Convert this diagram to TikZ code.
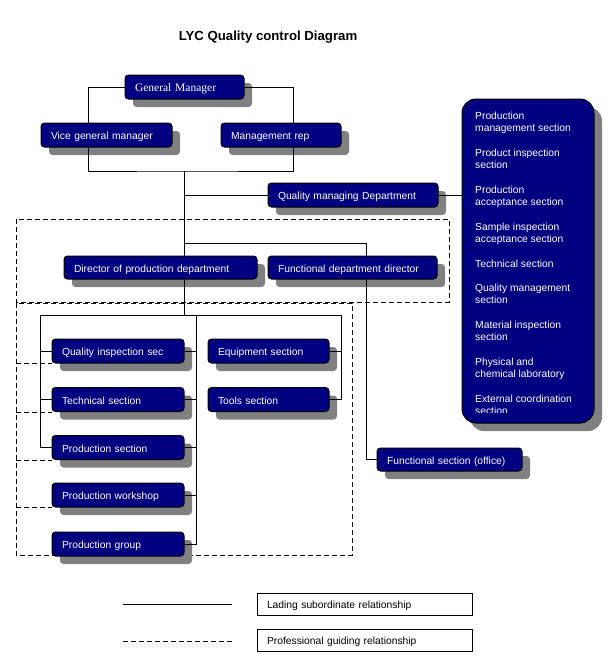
\documentclass[tikz,border=0pt]{standalone}
\usepackage{fontspec}
\setmainfont{Liberation Sans}
\newfontfamily\gmfont{Liberation Serif}
\usetikzlibrary{shadows}
\definecolor{boxblue}{RGB}{0,0,128}
\definecolor{shadowgray}{RGB}{128,128,128}

\begin{document}
\begin{tikzpicture}[x=1pt,y=-1pt,
        unit/.style={draw=black,fill=boxblue,text=white,rounded corners=3.5pt,line width=1pt,
            inner xsep=10pt,inner ysep=0pt,minimum height=24pt,align=left,
            text height=9.5pt,text depth=0.5pt,
            font=\fontsize{10.3}{12}\selectfont,
            drop shadow={shadow xshift=8pt,shadow yshift=-8pt,fill=shadowgray,opacity=1}},
        lead/.style={line width=1pt},
        guide/.style={line width=1pt,dash pattern=on 5pt off 3pt},
        legend/.style={draw,line width=1pt,minimum height=22pt,inner xsep=10pt,
            text height=9.5pt,text depth=0.5pt,
            text width=195pt,align=left,font=\fontsize{10.3}{12}\selectfont}]
                \useasboundingbox (0,0) rectangle (614,667);
                \node[font=\bfseries\fontsize{13.2}{15}\selectfont] (title) at (268,37) {LYC Quality control Diagram};
                \draw[guide] (16,219) rectangle (449,302);
                \draw[guide] (16,303) rectangle (352,555);
                \coordinate (dl) at (16,303);
                \node[unit,text width=99pt,font=\gmfont\fontsize{11.5}{13}\selectfont] (gm) at (184.5,87) {General Manager};
                \node[unit,text width=111pt] (vgm) at (106.5,135) {Vice general manager};
                \node[unit,text width=100pt] (mrep) at (281,135) {Management rep};
                \node[unit,text width=150pt] (qmd) at (353,195) {Quality managing Department};
                \node[unit,text width=173pt,minimum height=23pt] (dpd) at (160.5,267.5) {Director of production department};
                \node[unit,text width=149pt,minimum height=23pt] (fdd) at (352.5,267.5) {Functional department director};
                \node[unit,text width=125pt,minimum height=23pt] (fso) at (449.5,459.5) {Functional section (office)};
                \node[unit,text width=112pt] (qis) at (118,351) {Quality inspection sec};
                \node[unit,text width=112pt] (tec) at (118,399.5) {Technical section};
                \node[unit,text width=112pt] (prs) at (118,447.5) {Production section};
                \node[unit,text width=112pt] (pws) at (118,495) {Production workshop};
                \node[unit,text width=112pt] (prg) at (118,544) {Production group};
                \node[unit,text width=101pt] (eqs) at (268.5,351) {Equipment section};
                \node[unit,text width=101pt] (tls) at (268.5,399.5) {Tools section};
                \node[unit,minimum width=132pt,minimum height=324pt,rounded corners=14pt] (secs) at (528,261) {};
                \begin{scope}
                    \clip (462,99) rectangle (594,412);
                    \node[anchor=north west,inner sep=0pt,text=white,align=left,
                        font=\fontsize{10.3}{12}\selectfont] (secstext) at (475,112)
                        {Production\\management section\\[13pt]
                         Product inspection\\section\\[13pt]
                         Production\\acceptance section\\[13pt]
                         Sample inspection\\acceptance section\\[13pt]
                         Technical section\\[12pt]
                         Quality management\\section\\[13pt]
                         Material inspection\\section\\[13pt]
                         Physical and\\chemical laboratory\\[13pt]
                         External coordination\\section};
                \end{scope}
                \coordinate (gml) at (88,87);
                \coordinate (gmr) at (293,87);
                \coordinate (top) at (184,171);
                \coordinate (br) at (184,243);
                \coordinate (fx) at (366,243);
                \coordinate (hl) at (40,315);
                \coordinate (hm) at (196,315);
                \coordinate (hr) at (341,315);
                \draw[lead] (gm.west) -- (gml) -- (vgm.north -| gml);
                \draw[lead] (gm.east) -- (gmr) -- (mrep.north -| gmr);
                \draw[lead] (vgm.south -| gml) |- (top) -| (mrep.south -| gmr);
                \draw[lead] (top) -- (dpd.north -| top);
                \draw[lead] (top |- qmd.west) -- (qmd.west);
                \draw[lead] (qmd.east) -- (secs.west |- qmd.east);
                \draw[lead] (br) -- (fx) -- (fdd.north -| fx);
                \draw[lead] (fdd.south -| fx) |- (fso.west);
                \draw[lead] (dpd.south -| top) -- (top |- hl);
                \draw[lead] (hl) -- (hr);
                \draw[lead] (hl) |- (prs.west);
                \draw[lead] (qis.west -| hl) -- (qis.west);
                \draw[lead] (tec.west -| hl) -- (tec.west);
                \draw[lead] (hm) |- (prg.east);
                \draw[lead] (qis.east) -- (qis.east -| hm);
                \draw[lead] (tec.east) -- (tec.east -| hm);
                \draw[lead] (prs.east) -- (prs.east -| hm);
                \draw[lead] (pws.east) -- (pws.east -| hm);
                \draw[lead] (hr) |- (tls.east);
                \draw[lead] (eqs.east) -- (eqs.east -| hr);
                \draw[guide] (qis.south west -| dl) -- (qis.south west);
                \draw[guide] (tec.south west -| dl) -- (tec.south west);
                \draw[guide] (prs.south west -| dl) -- (prs.south west);
                \draw[guide] (pws.south west -| dl) -- (pws.south west);
                \coordinate (la) at (123,604);
                \coordinate (lb) at (232,604);
                \coordinate (lc) at (123,641);
                \coordinate (ld) at (232,641);
                \draw[lead] (la) -- (lb);
                \draw[guide] (lc) -- (ld);
                \node[legend] (leadkey) at (364.5,604) {Lading subordinate relationship};
                \node[legend] (guidekey) at (364.5,640) {Professional guiding relationship};
            \end{tikzpicture}
\end{document}
